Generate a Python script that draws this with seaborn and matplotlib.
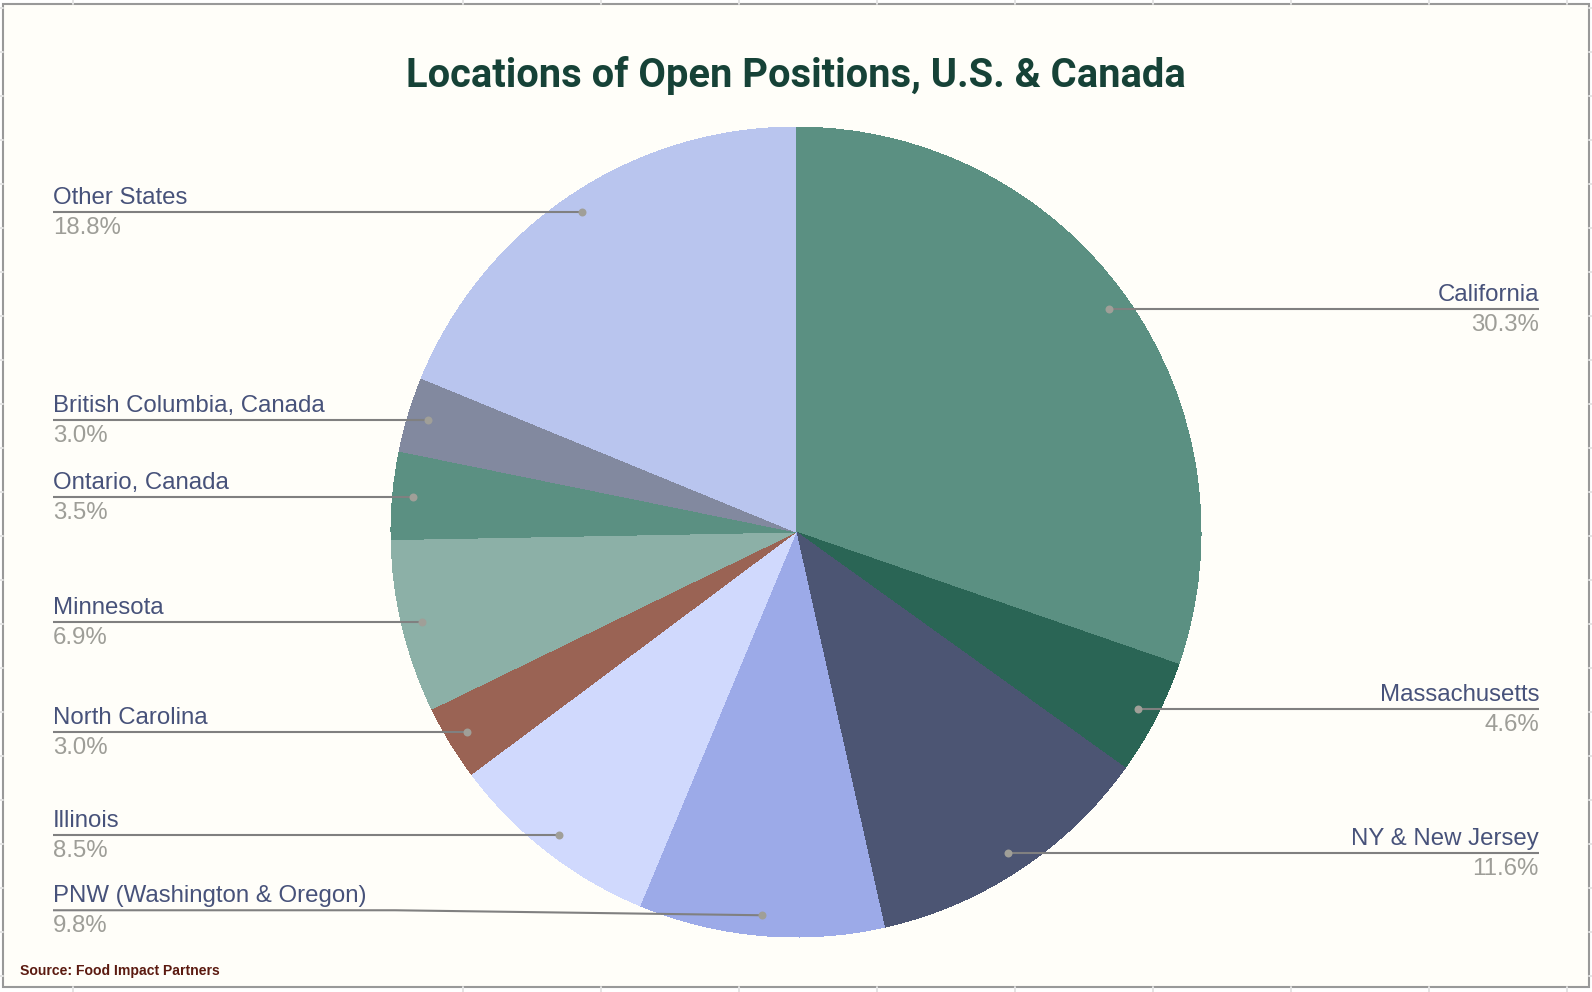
import numpy as np
import matplotlib
matplotlib.use("Agg")
import matplotlib.pyplot as plt
import seaborn as sns

# slices, clockwise from 12 o'clock
locations = ['California', 'Massachusetts', 'NY & New Jersey', 'PNW (Washington & Oregon)', 'Illinois',
             'North Carolina', 'Minnesota', 'Ontario, Canada', 'British Columbia, Canada', 'Other States']
shares = [30.3, 4.6, 11.6, 9.8, 8.5, 3.0, 6.9, 3.5, 3.0, 18.8]
slice_colors = ['#5b9082', '#2a6555', '#4c5573', '#9caae8', '#d0d9fd',
                '#9a6354', '#8cb0a7', '#5b9082', '#82899f', '#b9c5ee']

W, H = 1592, 992
BG = '#fffef9'
CX, CY, R = 796, 460, 405   # pie centre and radius, px from bottom left


def draw_sheet_marks(ax):
    # bits of the spreadsheet grid showing round the chart frame
    for x in [73, 463, 601, 739, 877, 1015, 1153, 1291, 1429, 1567]:
        ax.plot([x, x], [H - 4, H], color='#e4e4e4', lw=1.4)
        ax.plot([x, x], [0, H - 987], color='#e4e4e4', lw=1.4)
    for y in range(8, 980, 44):
        ax.plot([0, 3], [H - y, H - y], color='#e4e4e4', lw=1.4)
        ax.plot([1589, W], [H - y, H - y], color='#e4e4e4', lw=1.4)


sns.set_theme(style='white')
plt.rcParams['font.family'] = ['Liberation Sans', 'DejaVu Sans']

fig = plt.figure(figsize=(W / 100, H / 100), dpi=100, facecolor='white')
ax = fig.add_axes([0, 0, 1, 1])
ax.set_xlim(0, W)
ax.set_ylim(0, H)
ax.axis('off')

draw_sheet_marks(ax)
ax.add_patch(plt.Rectangle((3, H - 987), 1586, 983, facecolor=BG, edgecolor='#999999', lw=1.5))

ax.pie(shares, colors=sns.color_palette(slice_colors), startangle=90, counterclock=False,
       center=(CX, CY), radius=R, frame=True, wedgeprops={'linewidth': 0, 'antialiased': False})
ax.set_xlim(0, W)
ax.set_ylim(0, H)
ax.set_aspect('equal')
ax.axis('off')

# leader lines start at 95% of the radius, in the middle of each slice
mids = (np.cumsum(shares) - np.array(shares) / 2) / sum(shares) * 2 * np.pi
for name, share, mid in zip(locations, shares, mids):
    dx = CX + 0.95 * R * np.sin(mid)
    dy = CY + 0.95 * R * np.cos(mid)
    right = dx > CX
    end = 1539 if right else 53
    ha = 'right' if right else 'left'
    if name.startswith('PNW'):
        # this one bends, text would run into the pie otherwise
        ly = dy + 5
        ax.plot([dx, 395, end], [dy, ly, ly], color='#808080', lw=1.5, solid_capstyle='butt', zorder=4)
    else:
        ly = dy
        ax.plot([dx, end], [dy, dy], color='#808080', lw=1.5, solid_capstyle='butt', zorder=4)
    ax.scatter([dx], [dy], s=33, color='#a09f98', linewidths=0, zorder=5)
    ax.text(end, ly + 8, name, ha=ha, va='baseline', fontsize=17.3, color='#47527a')
    ax.text(end, ly - 22, f'{share:.1f}%', ha=ha, va='baseline', fontsize=17.3, color='#9e9e98')

ax.text(796, H - 87, 'Locations of Open Positions, U.S. & Canada', ha='center', va='baseline',
        fontsize=28.7, fontweight='bold', family=['Roboto', 'DejaVu Sans'], color='#164237')
ax.text(20, H - 975, 'Source: Food Impact Partners', ha='left', va='baseline',
        fontsize=10.05, fontweight='bold', color='#5b1a10')

fig.savefig('out.png', dpi=100, facecolor='white')
